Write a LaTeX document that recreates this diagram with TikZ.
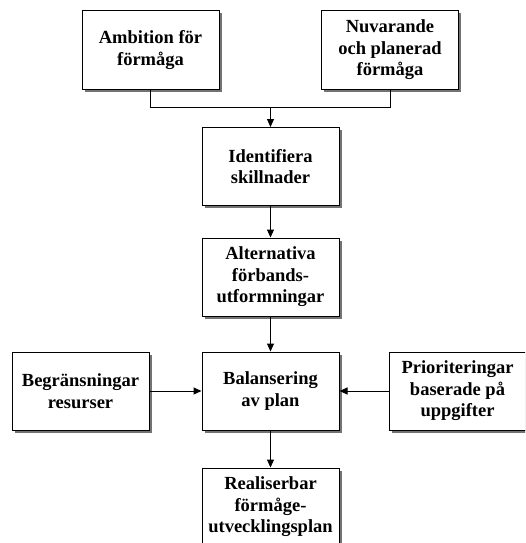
\documentclass[tikz,border=0pt]{standalone}
\usepackage{fontspec}
\setmainfont{Liberation Serif}
\usetikzlibrary{arrows.meta,shadows}

\tikzset{
  box/.style={draw=black, line width=1pt, fill=white,
    minimum width=137pt, minimum height=78pt, inner sep=2pt,
    align=center, font=\bfseries\fontsize{18.5}{21.5}\selectfont,
    drop shadow={shadow xshift=2.5pt, shadow yshift=-2.5pt, fill=black!55, opacity=1}},
  link/.style={draw=black, line width=1pt},
  flow/.style={link, -{Triangle[length=8pt,width=7pt]}}
}

\begin{document}
\begin{tikzpicture}[x=1pt,y=-1pt]
  \useasboundingbox (0,0) rectangle (525,543);
  \clip (0,0) rectangle (525,543);

  % inputs at the top
  \node[box] (ambition) at (150.5,50) {Ambition för\\förmåga};
  \node[box] (nuvarande) at (390,50) {Nuvarande\\och planerad\\förmåga};

  % main column
  \node[box] (identifiera) at (270.5,166.5) {Identifiera\\skillnader};
  \node[box] (alternativa) at (270.5,277) {Alternativa\\förbands-\\utformningar};
  \node[box] (balansering) at (270.5,391) {Balansering\\av plan};
  \node[box] (realiserbar) at (270.5,507) {Realiserbar\\förmåge-\\utvecklingsplan};

  % side inputs
  \node[box] (begransningar) at (80.5,391) {Begränsningar\\resurser};
  \node[box] (prioriteringar) at (457.5,391) {Prioriteringar\\baserade på\\uppgifter};

  % join of the two top boxes
  \coordinate (join) at (identifiera.north |- 0,107);
  \draw[link] (ambition.south) |- (join);
  \draw[link] (nuvarande.south) |- (join);
  \draw[flow] (join) -- (identifiera.north);

  \draw[flow] (identifiera) -- (alternativa);
  \draw[flow] (alternativa) -- (balansering);
  \draw[flow] (balansering) -- (realiserbar);
  \draw[flow] (begransningar) -- (balansering);
  \draw[flow] (prioriteringar) -- (balansering);
\end{tikzpicture}
\end{document}
